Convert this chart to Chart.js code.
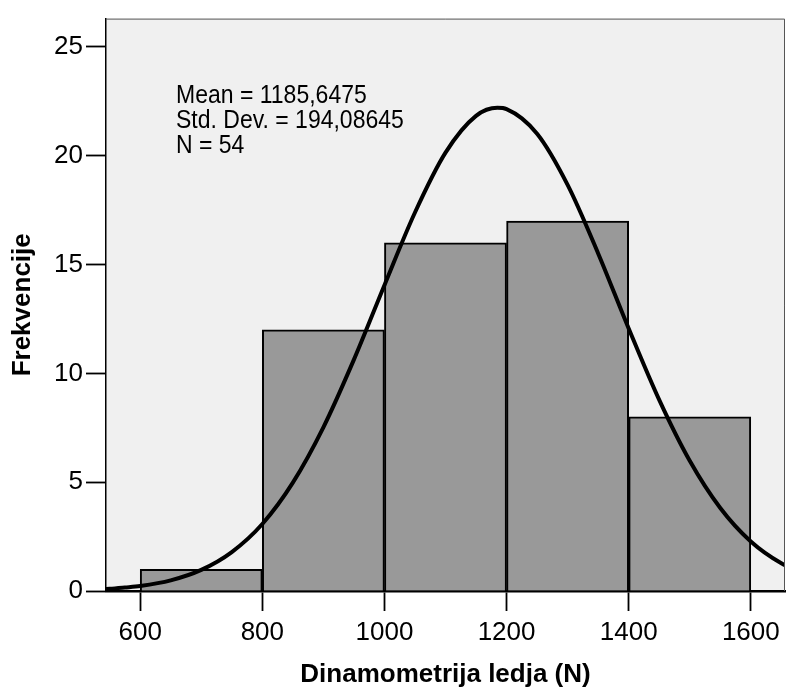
<!DOCTYPE html>
<html>
<head>
<meta charset="utf-8">
<script src="https://cdn.jsdelivr.net/npm/chart.js@4.4.0/dist/chart.umd.min.js"></script>
<style>
  html, body { margin: 0; padding: 0; background: #ffffff; }
  #wrap { width: 787px; height: 688px; }
</style>
</head>
<body>
<div id="wrap"><canvas id="c" width="787" height="688"></canvas></div>
<script>
// Histogram bins (centers) and frequencies
const binCenters = [700, 900, 1100, 1300, 1500];
const frequencies = [1, 12, 16, 17, 8];

// Normal curve points
const curveX = [525, 550, 575, 600, 650, 700, 750, 800, 850, 900, 950, 1000, 1050, 1100, 1150, 1185, 1200, 1250, 1300, 1350, 1400, 1450, 1500, 1550, 1600, 1650, 1700];
const curveY = [0.07, 0.10, 0.16, 0.23, 0.49, 0.97, 1.79, 3.08, 4.98, 7.52, 10.63, 14.05, 17.39, 20.14, 21.83, 22.2, 22.14, 21.01, 18.66, 15.51, 12.06, 8.78, 5.98, 3.81, 2.27, 1.27, 0.66];

// Axis ticks
const xTicks = [600, 800, 1000, 1200, 1400, 1600];
const yTicks = [0, 5, 10, 15, 20, 25];

// Summary statistics text
const statLines = ["Mean = 1185,6475", "Std. Dev. = 194,08645", "N = 54"];

const xTitle = "Dinamometrija ledja (N)";
const yTitle = "Frekvencije";

const FONT = "'Liberation Sans', Arial, Helvetica, sans-serif";

const bgPlugin = {
  id: 'plotBg',
  beforeDraw(chart) {
    const {ctx, chartArea: a} = chart;
    ctx.save();
    ctx.fillStyle = '#f0f0f0';
    ctx.fillRect(a.left, a.top, a.right - a.left, a.bottom - a.top);
    ctx.restore();
  },
  afterDraw(chart) {
    const {ctx, chartArea: a} = chart;
    ctx.save();
    ctx.strokeStyle = '#555555';
    ctx.lineWidth = 1;
    ctx.beginPath();
    ctx.moveTo(a.left, a.top + 0.5);
    ctx.lineTo(a.right - 0.5, a.top + 0.5);
    ctx.lineTo(a.right - 0.5, a.bottom);
    ctx.stroke();
    // stats text
    ctx.fillStyle = '#000000';
    ctx.font = "23px " + FONT;
    ctx.textAlign = 'left';
    ctx.textBaseline = 'alphabetic';
    const x0 = a.left + 70;
    statLines.forEach((t, i) => {
      ctx.save();
      ctx.translate(x0, 103 + i * 25);
      ctx.scale(1, 1.1);
      ctx.fillText(t, 0, 0);
      ctx.restore();
    });
    ctx.restore();
  }
};

new Chart(document.getElementById('c'), {
  type: 'bar',
  data: {
    datasets: [
      {
        type: 'line',
        data: curveX.map((x, i) => ({x: x, y: curveY[i]})),
        borderColor: '#000000',
        borderWidth: 4,
        pointRadius: 0,
        fill: false,
        cubicInterpolationMode: 'monotone',
        clip: 0,
        order: 0
      },
      {
        type: 'bar',
        data: binCenters.map((x, i) => ({x: x, y: frequencies[i]})),
        backgroundColor: '#999999',
        borderColor: '#000000',
        borderWidth: 2,
        borderSkipped: 'start',
        barPercentage: 1,
        categoryPercentage: 1,
        grouped: false,
        order: 1
      }
    ]
  },
  options: {
    responsive: false,
    animation: false,
    events: [],
    layout: { padding: { top: 15, right: 2, left: 0, bottom: 0 } },
    plugins: { legend: { display: false }, tooltip: { enabled: false } },
    scales: {
      x: {
        type: 'linear',
        min: 544,
        max: 1656,
        offset: false,
        afterBuildTicks: (s) => { s.ticks = xTicks.map(v => ({value: v})); },
        afterFit: (s) => { s.height = 97; },
        grid: { offset: false, drawOnChartArea: false, drawTicks: true, tickLength: 20, tickWidth: 1.8, tickColor: '#000000' },
        border: { display: true, color: '#000000', width: 2.5 },
        ticks: { color: '#000000', font: { family: FONT, size: 26 }, padding: 6, maxRotation: 0, autoSkip: false, callback: (v) => String(v) },
        title: { display: true, text: xTitle, color: '#000000', font: { family: FONT, size: 26, weight: 'bold', lineHeight: 1 }, padding: { top: 0, bottom: 0 } }
      },
      y: {
        type: 'linear',
        min: 0,
        max: 26.3,
        afterBuildTicks: (s) => { s.ticks = yTicks.map(v => ({value: v})); },
        afterFit: (s) => { s.width = 106; },
        grid: { offset: false, drawOnChartArea: false, drawTicks: true, tickLength: 20, tickWidth: 1.8, tickColor: '#000000' },
        border: { display: true, color: '#000000', width: 1.5 },
        ticks: { color: '#000000', font: { family: FONT, size: 26 }, padding: 3, callback: (v) => String(v) },
        title: { display: true, text: yTitle, color: '#000000', font: { family: FONT, size: 26, weight: 'bold' }, padding: { top: 7, bottom: 0 } }
      }
    }
  },
  plugins: [bgPlugin]
});
</script>
</body>
</html>
